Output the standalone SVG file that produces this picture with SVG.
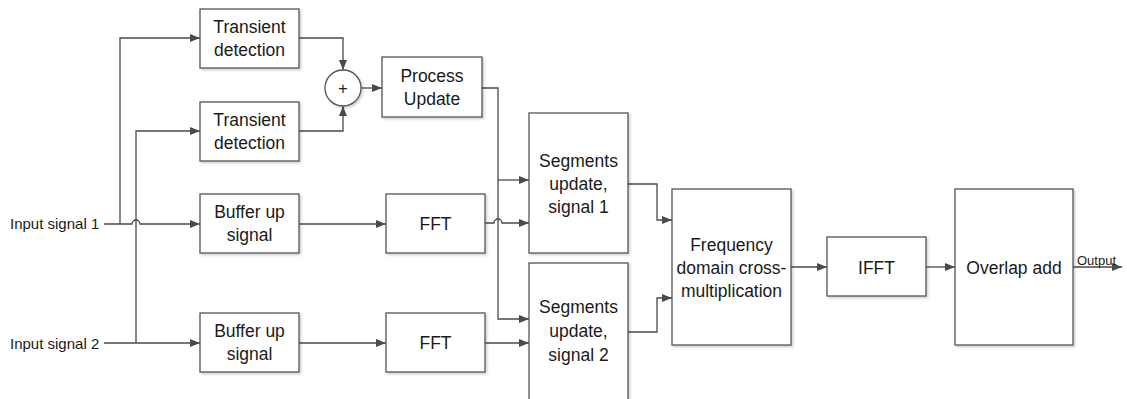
<svg xmlns="http://www.w3.org/2000/svg" width="1127" height="399" viewBox="0 0 1127 399">
  <style>
    .box { fill: #ffffff; stroke: #555555; stroke-width: 1.3; filter: url(#shadow); }
    .wire { fill: none; stroke: #4a4a4a; stroke-width: 1.3; }
    .arrow { marker-end: url(#head); }
    .t { font-family: "Liberation Sans", Arial, sans-serif; font-size: 17.5px; fill: #1a1a1a; text-anchor: middle; }
    .lbl { font-family: "Liberation Sans", Arial, sans-serif; font-size: 15px; fill: #1a1a1a; }
    .small { font-family: "Liberation Sans", Arial, sans-serif; font-size: 13px; fill: #1a1a1a; }
  </style>
  <defs>
    <filter id="shadow" x="-10%" y="-10%" width="130%" height="130%">
      <feDropShadow dx="1.5" dy="1.5" stdDeviation="0.8" flood-color="#000000" flood-opacity="0.2"/>
    </filter>
    <marker id="head" markerUnits="userSpaceOnUse" markerWidth="10" markerHeight="8" refX="10" refY="4" orient="auto">
      <path d="M0,0 L10,4 L0,8 Z" fill="#4a4a4a"/>
    </marker>
  </defs>

  <rect width="1127" height="399" fill="#ffffff"/>

  <!-- input labels -->
  <g id="input1"><text class="lbl" x="10" y="229">Input signal 1</text></g>
  <g id="input2"><text class="lbl" x="10" y="349">Input signal 2</text></g>

  <!-- connectors -->
  <g id="connectors">
    <path class="wire arrow" d="M104,224 H132 A4,4 0 0 1 140,224 H200"/>
    <path class="wire arrow" d="M120,224 V38 H200"/>
    <path class="wire arrow" d="M104,343 H200"/>
    <path class="wire arrow" d="M136,343 V131 H200"/>
    <path class="wire arrow" d="M299,38 H343 V70"/>
    <path class="wire arrow" d="M299,131 H343 V106"/>
    <path class="wire arrow" d="M361,88 H382"/>
    <path class="wire arrow" d="M299,224 H386"/>
    <path class="wire arrow" d="M299,343 H386"/>
    <path class="wire arrow" d="M482,88 H498 V319 H529"/>
    <path class="wire arrow" d="M498,180 H529"/>
    <path class="wire arrow" d="M485,223 H494 A4,4 0 0 1 502,223 H529"/>
    <path class="wire arrow" d="M485,343 H529"/>
    <path class="wire arrow" d="M628,184 H657 V220 H672"/>
    <path class="wire arrow" d="M628,332 H657 V298 H672"/>
    <path class="wire arrow" d="M791,267 H827"/>
    <path class="wire arrow" d="M926,267 H955"/>
    <path class="wire arrow" d="M1073,267 H1122"/>
  </g>

  <g id="transient1">
    <rect class="box" x="200" y="9" width="99" height="59"/>
    <text class="t" x="249.5" y="33">Transient</text>
    <text class="t" x="249.5" y="56">detection</text>
  </g>
  <g id="transient2">
    <rect class="box" x="200" y="102" width="99" height="59"/>
    <text class="t" x="249.5" y="126">Transient</text>
    <text class="t" x="249.5" y="149">detection</text>
  </g>
  <g id="sum">
    <circle class="box" cx="343" cy="88" r="18"/>
    <text class="t" x="343" y="93.5" style="font-size:16px">+</text>
  </g>
  <g id="process-update">
    <rect class="box" x="382" y="57" width="100" height="60"/>
    <text class="t" x="432" y="82">Process</text>
    <text class="t" x="432" y="105">Update</text>
  </g>
  <g id="buffer1">
    <rect class="box" x="200" y="194" width="99" height="59"/>
    <text class="t" x="249.5" y="218">Buffer up</text>
    <text class="t" x="249.5" y="241">signal</text>
  </g>
  <g id="buffer2">
    <rect class="box" x="200" y="313" width="99" height="59"/>
    <text class="t" x="249.5" y="337">Buffer up</text>
    <text class="t" x="249.5" y="360">signal</text>
  </g>
  <g id="fft1">
    <rect class="box" x="386" y="194" width="99" height="59"/>
    <text class="t" x="435.5" y="230">FFT</text>
  </g>
  <g id="fft2">
    <rect class="box" x="386" y="313" width="99" height="59"/>
    <text class="t" x="435.5" y="349">FFT</text>
  </g>
  <g id="segments1">
    <rect class="box" x="529" y="113" width="99" height="140"/>
    <text class="t" x="578.5" y="167">Segments</text>
    <text class="t" x="578.5" y="190">update,</text>
    <text class="t" x="578.5" y="213">signal 1</text>
  </g>
  <g id="segments2">
    <rect class="box" x="529" y="263" width="99" height="140"/>
    <text class="t" x="578.5" y="313">Segments</text>
    <text class="t" x="578.5" y="337">update,</text>
    <text class="t" x="578.5" y="361">signal 2</text>
  </g>
  <g id="cross-multiplication">
    <rect class="box" x="672" y="189" width="119" height="156"/>
    <text class="t" x="731.5" y="251">Frequency</text>
    <text class="t" x="731.5" y="274">domain cross-</text>
    <text class="t" x="731.5" y="297">multiplication</text>
  </g>
  <g id="ifft">
    <rect class="box" x="827" y="237" width="99" height="59"/>
    <text class="t" x="876.5" y="274">IFFT</text>
  </g>
  <g id="overlap-add">
    <rect class="box" x="955" y="189" width="118" height="156"/>
    <text class="t" x="1014" y="274">Overlap add</text>
  </g>
  <g id="output">
    <text class="small" x="1077" y="265">Output</text>
  </g>
</svg>
